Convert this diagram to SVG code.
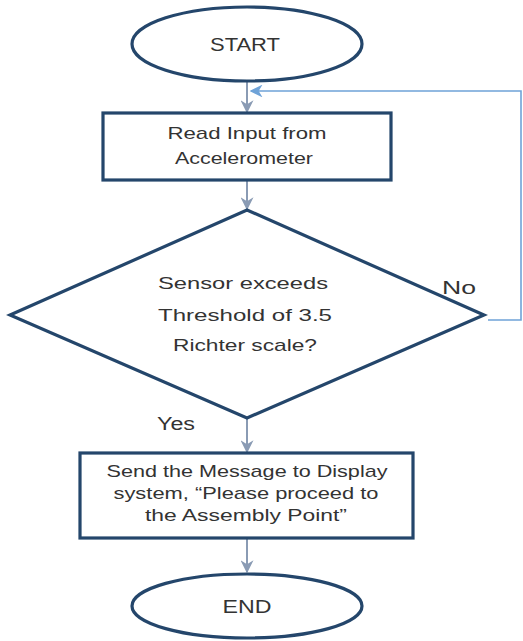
<svg xmlns="http://www.w3.org/2000/svg" width="523" height="641" viewBox="0 0 523 641">
<defs>
<style>
.shape{fill:#ffffff;stroke:#24466b;stroke-width:3.2}
.t{font-family:"Liberation Sans",Arial,sans-serif;fill:#333333;text-anchor:middle}
.conn{fill:none;stroke:#8a9bb4;stroke-width:2}
.fb{fill:none;stroke:#6fa3d8;stroke-width:1.6}
</style>
<marker id="ah" viewBox="0 0 10 10" refX="9" refY="5" markerWidth="6.5" markerHeight="6.5" orient="auto" markerUnits="strokeWidth">
<path d="M0,0 L10,5 L0,10 L3,5 z" fill="#8a9bb4"/>
</marker>
<marker id="ahb" viewBox="0 0 10 10" refX="9" refY="5" markerWidth="8" markerHeight="8" orient="auto" markerUnits="strokeWidth">
<path d="M0,0 L10,5 L0,10 L3,5 z" fill="#6fa3d8"/>
</marker>
</defs>
<rect width="523" height="641" fill="#ffffff"/>
<g id="connectors">
<line class="conn" x1="247" y1="82" x2="247" y2="112" marker-end="url(#ah)"/>
<line class="conn" x1="247" y1="181" x2="247" y2="209" marker-end="url(#ah)"/>
<line class="conn" x1="247" y1="418" x2="247" y2="452" marker-end="url(#ah)"/>
<line class="conn" x1="247" y1="539" x2="247" y2="572" marker-end="url(#ah)"/>
<polyline class="fb" points="488,320 521,320 521,91 251,91" marker-end="url(#ahb)"/>
<text class="t" x="459" y="294" font-size="18" textLength="34" lengthAdjust="spacingAndGlyphs">No</text>
<text class="t" x="176" y="430" font-size="18" textLength="38" lengthAdjust="spacingAndGlyphs">Yes</text>
</g>
<g id="start">
<ellipse class="shape" cx="247" cy="44" rx="115" ry="37"/>
<text class="t" x="245" y="51" font-size="19" textLength="70" lengthAdjust="spacingAndGlyphs">START</text>
</g>
<g id="read">
<rect class="shape" x="103" y="113" width="288" height="67"/>
<text class="t" x="247" y="139" font-size="17" textLength="159" lengthAdjust="spacingAndGlyphs">Read Input from</text>
<text class="t" x="244" y="164" font-size="17" textLength="138" lengthAdjust="spacingAndGlyphs">Accelerometer</text>
</g>
<g id="decision">
<polygon class="shape" points="247,210 484,315 247,418 10,315"/>
<text class="t" x="243" y="289" font-size="17" textLength="170" lengthAdjust="spacingAndGlyphs">Sensor exceeds</text>
<text class="t" x="245" y="321" font-size="17" textLength="174" lengthAdjust="spacingAndGlyphs">Threshold of 3.5</text>
<text class="t" x="245" y="351" font-size="17" textLength="144" lengthAdjust="spacingAndGlyphs">Richter scale?</text>
</g>
<g id="send">
<rect class="shape" x="80" y="453" width="333" height="85"/>
<text class="t" x="247" y="477" font-size="17" textLength="281" lengthAdjust="spacingAndGlyphs">Send the Message to Display</text>
<text class="t" x="246" y="499" font-size="17" textLength="265" lengthAdjust="spacingAndGlyphs">system, “Please proceed to</text>
<text class="t" x="246" y="521" font-size="17" textLength="202" lengthAdjust="spacingAndGlyphs">the Assembly Point”</text>
</g>
<g id="end">
<ellipse class="shape" cx="247" cy="606" rx="115" ry="32"/>
<text class="t" x="247" y="613" font-size="19" textLength="49" lengthAdjust="spacingAndGlyphs">END</text>
</g>
</svg>
